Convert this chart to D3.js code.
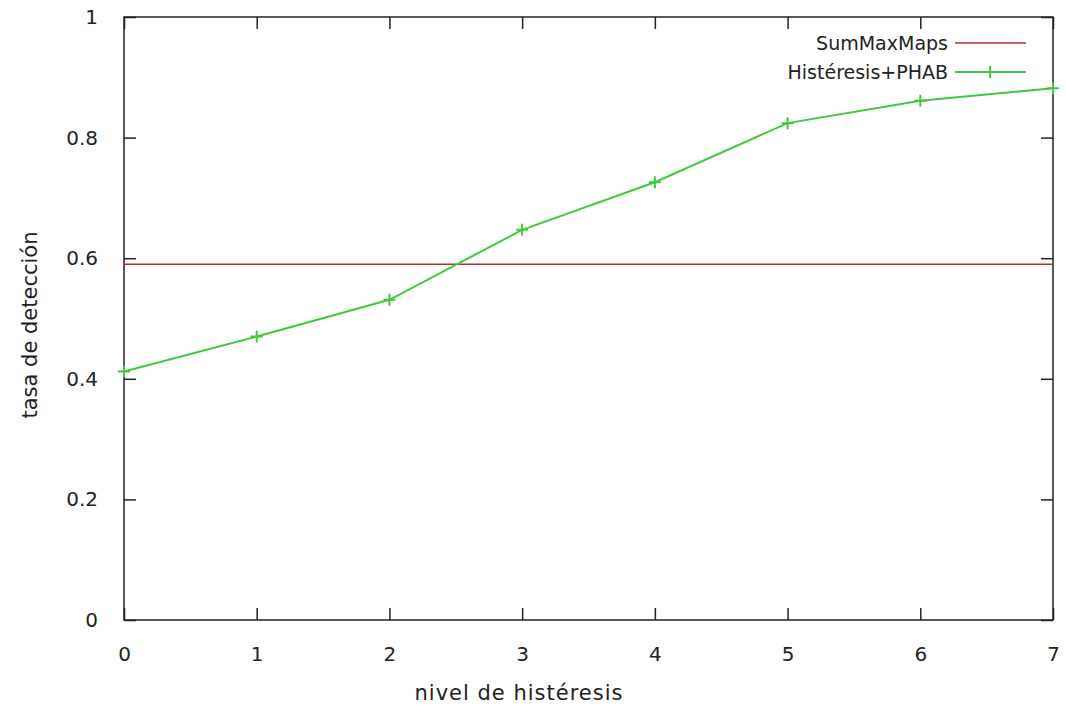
<!DOCTYPE html>
<html>
<head>
<meta charset="utf-8">
<script src="https://cdn.jsdelivr.net/npm/d3@7"></script>
<style>
  body { margin: 0; background: #fff; }
  svg text { font-family: "DejaVu Sans", sans-serif; fill: #222; }
</style>
</head>
<body>
<svg id="drawing_region"></svg>
<script>
// niveles de histéresis y tasas
const niveles = [0, 1, 2, 3, 4, 5, 6, 7];
const histeresisPhab = [0.412, 0.470, 0.531, 0.647, 0.726, 0.824, 0.861, 0.882];
const sumMaxMaps = 0.59;
const xTicks = [0, 1, 2, 3, 4, 5, 6, 7];
const yTicks = [0, 0.2, 0.4, 0.6, 0.8, 1];
const seriesNames = ['SumMaxMaps', 'Histéresis+PHAB'];

const config = {
    width: 1066,
    height: 713,
    margin: {top: 17, right: 13, bottom: 93, left: 124}
};

const svg = d3.select('#drawing_region')
    .attr('width', config.width)
    .attr('height', config.height);

const inner_width = config.width - config.margin.left - config.margin.right;
const inner_height = config.height - config.margin.top - config.margin.bottom;

const chart = svg.append('g')
    .attr('transform', `translate(${config.margin.left}, ${config.margin.top})`);

const xscale = d3.scaleLinear().domain([0, 7]).range([0, inner_width]);
const yscale = d3.scaleLinear().domain([0, 1]).range([inner_height, 0]);

const red = '#b03030';
const green = '#40c840';

// ticks, gnuplot style: inward, mirrored
const tickLen = 12;
chart.append('g')
    .attr('transform', `translate(0, ${inner_height})`)
    .call(d3.axisBottom(xscale).tickValues(xTicks).tickSizeInner(-tickLen).tickSizeOuter(0).tickPadding(27).tickFormat(d3.format('d')))
    .call(g => g.select('.domain').remove());
chart.append('g')
    .call(d3.axisTop(xscale).tickValues(xTicks).tickSizeInner(-tickLen).tickSizeOuter(0).tickFormat(''))
    .call(g => g.select('.domain').remove());
chart.append('g')
    .call(d3.axisLeft(yscale).tickValues(yTicks).tickSizeInner(-tickLen).tickSizeOuter(0).tickPadding(26).tickFormat(d => d === 0 || d === 1 ? d : d3.format('.1f')(d)))
    .call(g => g.select('.domain').remove());
chart.append('g')
    .attr('transform', `translate(${inner_width}, 0)`)
    .call(d3.axisRight(yscale).tickValues(yTicks).tickSizeInner(-tickLen).tickSizeOuter(0).tickFormat(''))
    .call(g => g.select('.domain').remove());

chart.selectAll('.tick line').attr('stroke', '#222').attr('stroke-width', 1.5);
chart.selectAll('.tick text').attr('font-size', 20).style('font-family', '"DejaVu Sans", sans-serif').attr('fill', '#222');

// border
chart.append('rect')
    .attr('width', inner_width)
    .attr('height', inner_height)
    .attr('fill', 'none')
    .attr('stroke', '#222')
    .attr('stroke-width', 1.5);

// SumMaxMaps line
chart.append('line')
    .attr('x1', xscale(0)).attr('x2', xscale(7))
    .attr('y1', yscale(sumMaxMaps)).attr('y2', yscale(sumMaxMaps))
    .attr('stroke', red).attr('stroke-width', 1.5);

// Histéresis+PHAB
const line = d3.line().x((d, i) => xscale(niveles[i])).y(d => yscale(d));
chart.append('path')
    .datum(histeresisPhab)
    .attr('d', line)
    .attr('fill', 'none')
    .attr('stroke', green)
    .attr('stroke-width', 2);

chart.selectAll('.pt')
    .data(histeresisPhab)
    .enter()
    .append('path')
    .attr('class', 'pt')
    .attr('d', 'M-6,0H6M0,-6V6')
    .attr('transform', (d, i) => `translate(${xscale(niveles[i])}, ${yscale(d)})`)
    .attr('stroke', green)
    .attr('stroke-width', 2);

// legend
const legend = svg.append('g');
const legendY = [43, 72];
const legendColors = [red, green];
seriesNames.forEach((name, i) => {
    legend.append('text')
        .attr('x', 948)
        .attr('y', legendY[i])
        .attr('dy', '0.35em')
        .attr('text-anchor', 'end')
        .attr('font-size', 19)
        .text(name);
    legend.append('line')
        .attr('x1', 955).attr('x2', 1026)
        .attr('y1', legendY[i]).attr('y2', legendY[i])
        .attr('stroke', legendColors[i])
        .attr('stroke-width', i === 0 ? 1.5 : 2);
});
legend.append('path')
    .attr('d', 'M-6,0H6M0,-6V6')
    .attr('transform', `translate(990, ${legendY[1]})`)
    .attr('stroke', green)
    .attr('stroke-width', 2);

// axis titles
svg.append('text')
    .attr('x', 519)
    .attr('y', 693)
    .attr('dy', '0.35em')
    .attr('text-anchor', 'middle')
    .attr('font-size', 21)
    .attr('letter-spacing', 1)
    .text('nivel de histéresis');

svg.append('text')
    .attr('transform', `translate(30, 325) rotate(-90)`)
    .attr('dy', '0.35em')
    .attr('text-anchor', 'middle')
    .attr('font-size', 21)
    .text('tasa de detección');
</script>
</body>
</html>
